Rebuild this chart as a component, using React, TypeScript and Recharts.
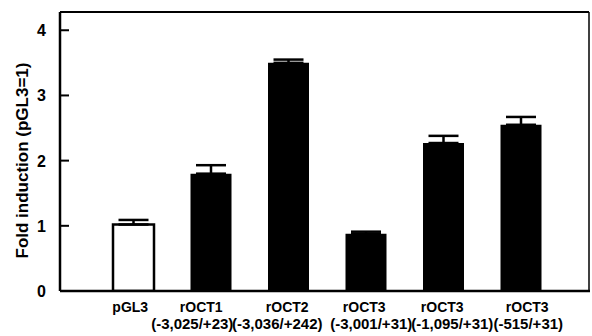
import React from "react";
import { BarChart, Bar, XAxis, YAxis, ErrorBar, Cell } from "recharts";

const constructs = ["pGL3", "rOCT1", "rOCT2", "rOCT3", "rOCT3", "rOCT3"];
const regions = ["", "(-3,025/+23)", "(-3,036/+242)", "(-3,001/+31)", "(-1,095/+31)", "(-515/+31)"];
const foldInduction = [1.02, 1.8, 3.5, 0.88, 2.27, 2.55];
const sem = [0.07, 0.13, 0.05, 0.03, 0.11, 0.12];
const yTicks = [0, 1, 2, 3, 4];
const yMax = 4.28;
const yLabel = "Fold induction (pGL3=1)";

const data = constructs.map((c, i) => ({
  key: String(i),
  construct: c,
  region: regions[i],
  value: foldInduction[i],
  err: [0, sem[i]],
}));

const W = 592;
const H = 336;
const MARGIN = { top: 12, right: 2, bottom: 0, left: 0 };
const Y_AXIS_W = 60;
const X_AXIS_H = 45;

const FONT = "'Liberation Sans', Arial, Helvetica, sans-serif";
const line1Dx = [-3.5, -10, -1.5, -2, -1.5, 6];
const line2Dx = [0, -19, -11.5, 5, 8.5, 7];

const XTick = (props: any) => {
  const { x, y, payload } = props;
  const i = Number(payload.value);
  return (
    <g>
      <text x={x + line1Dx[i]} y={y + 21} textAnchor="middle" fontFamily={FONT} fontWeight="bold" fontSize={14} fill="#000">
        {constructs[i]}
      </text>
      {regions[i] ? (
        <text x={x + line2Dx[i]} y={y + 38} textAnchor="middle" fontFamily={FONT} fontWeight="bold" fontSize={15} fill="#000">
          {regions[i]}
        </text>
      ) : null}
    </g>
  );
};

const YTick = (props: any) => {
  const { x, y, payload } = props;
  return (
    <g>
      <line x1={x} x2={x + 9} y1={y} y2={y} stroke="#000" strokeWidth={2} />
      <text x={x - 14} y={y + 6} textAnchor="end" fontFamily={FONT} fontWeight="bold" fontSize={16} fill="#000">
        {payload.value}
      </text>
    </g>
  );
};

// Axis label plus the top/right frame of the plot area (derived from the axis viewBox).
const YLabel = (props: any) => {
  const vb = props && props.viewBox ? props.viewBox : {};
  const top = typeof vb.y === "number" ? vb.y : MARGIN.top;
  const h = typeof vb.height === "number" ? vb.height : H - MARGIN.top - MARGIN.bottom - X_AXIS_H;
  const left = (typeof vb.x === "number" ? vb.x : MARGIN.left) + (typeof vb.width === "number" ? vb.width : Y_AXIS_W);
  const right = W - MARGIN.right - 1;
  return (
    <g>
      <path d={`M${left},${top} L${right},${top}`} stroke="#000" strokeWidth={2} fill="none" />
      <path d={`M${right},${top} L${right},${top + h}`} stroke="#000" strokeWidth={1.5} fill="none" />
      <text
        transform={`translate(22,${top + h / 2 + 9}) rotate(-90)`}
        textAnchor="middle"
        dominantBaseline="central"
        fontFamily={FONT}
        fontWeight="bold"
        fontSize={17}
        fill="#000"
      >
        {yLabel}
      </text>
    </g>
  );
};

export default function App() {
  return (
    <div style={{ width: W, height: H, background: "#fff" }}>
      <style>{`body{margin:0;background:#fff}`}</style>
      <BarChart width={W} height={H} data={data} margin={MARGIN} barSize={41}>
        <XAxis
          dataKey="key"
          height={X_AXIS_H}
          tick={<XTick />}
          tickLine={false}
          tickSize={0}
          tickMargin={0}
          axisLine={{ stroke: "#000", strokeWidth: 2.5 }}
          padding={{ left: 35, right: 30 }}
          interval={0}
        />
        <YAxis
          width={Y_AXIS_W}
          domain={[0, yMax]}
          ticks={yTicks}
          tick={<YTick />}
          tickLine={false}
          tickSize={0}
          tickMargin={0}
          axisLine={{ stroke: "#000", strokeWidth: 2.5 }}
          allowDataOverflow
          label={<YLabel />}
        />
        <Bar dataKey="value" isAnimationActive={false} stroke="#000" strokeWidth={2}>
          {data.map((d, i) => (
            <Cell key={d.key} fill={i === 0 ? "#fff" : "#000"} stroke="#000" strokeWidth={i === 0 ? 2.5 : 0} />
          ))}
          <ErrorBar dataKey="err" direction="y" width={15} stroke="#000" strokeWidth={2.5} isAnimationActive={false} />
        </Bar>
      </BarChart>
    </div>
  );
}
